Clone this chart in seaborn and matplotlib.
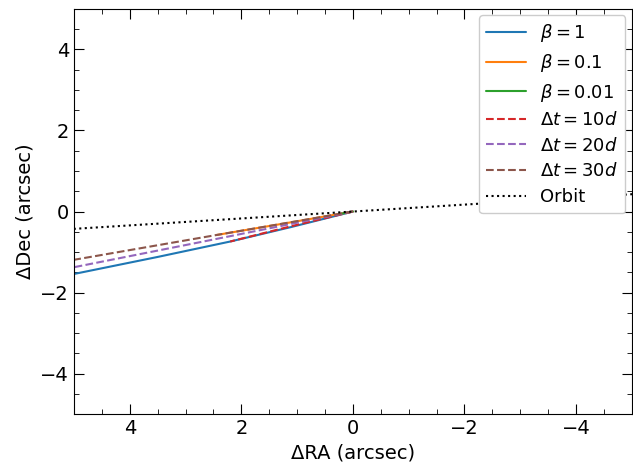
import matplotlib
matplotlib.use("Agg")
import matplotlib.pyplot as plt
import seaborn as sns
import pandas as pd
from matplotlib.ticker import AutoMinorLocator

# syndynes (fixed beta)
beta1_ra = [0, 0.55, 1.1, 2.2, 3.5, 5.5]
beta1_dec = [0, -0.19, -0.38, -0.74, -1.12, -1.68]
beta01_ra = [0, 0.25, 1.0, 2.45]
beta01_dec = [0, -0.06, -0.24, -0.58]
beta001_ra = [0, 0.1, 0.2]
beta001_dec = [0, -0.025, -0.05]

# synchrones (fixed dt)
dt10_ra = [0, 1.1, 2.2]
dt10_dec = [0, -0.36, -0.74]
dt20_ra = [0, 2.5, 5.5]
dt20_dec = [0, -0.69, -1.51]
dt30_ra = [0, 2.45, 5.5]
dt30_dec = [0, -0.58, -1.31]

orbit_ra = [5.5, 0, -5.5]
orbit_dec = [-0.47, 0, 0.47]

sns.set_style("ticks", {"text.color": "black", "axes.labelcolor": "black",
                        "xtick.color": "black", "ytick.color": "black",
                        "axes.edgecolor": "black"})
plt.rcParams["font.size"] = 14
plt.rcParams["mathtext.fontset"] = "dejavusans"

fig, ax = plt.subplots(figsize=(6.33, 4.68), dpi=100)
fig.subplots_adjust(left=0.117, right=0.998, top=0.981, bottom=0.115)

pal = sns.color_palette("tab10")

def draw(ra, dec, label, color, ls):
    df = pd.DataFrame({"ra": ra, "dec": dec})
    sns.lineplot(data=df, x="ra", y="dec", sort=False, estimator=None,
                 color=color, linestyle=ls, label=label, ax=ax, lw=1.5)

draw(beta1_ra, beta1_dec, r"$\beta = 1$", pal[0], "-")
draw(beta01_ra, beta01_dec, r"$\beta = 0.1$", pal[1], "-")
draw(beta001_ra, beta001_dec, r"$\beta = 0.01$", pal[2], "-")
draw(dt10_ra, dt10_dec, r"$\Delta t = 10d$", pal[3], "--")
draw(dt20_ra, dt20_dec, r"$\Delta t = 20d$", pal[4], "--")
draw(dt30_ra, dt30_dec, r"$\Delta t = 30d$", pal[5], "--")
draw(orbit_ra, orbit_dec, "Orbit", "black", ":")

ax.set_xlim(5, -5)
ax.set_ylim(-5, 5)
ax.set_xticks([4, 2, 0, -2, -4])
ax.set_yticks([-4, -2, 0, 2, 4])
ax.xaxis.set_minor_locator(AutoMinorLocator(4))
ax.yaxis.set_minor_locator(AutoMinorLocator(4))
ax.tick_params(which="both", direction="in", top=True, right=True, labelsize=14)
ax.tick_params(which="major", length=7)
ax.tick_params(which="minor", length=3.5)
ax.set_xlabel("ΔRA (arcsec)", fontsize=14)
ax.set_ylabel("ΔDec (arcsec)", fontsize=14)
ax.legend(loc="upper right", fontsize=13, framealpha=1.0, labelspacing=0.42,
          borderaxespad=0.35, handlelength=2.2)

fig.savefig("out.png", dpi=100)
